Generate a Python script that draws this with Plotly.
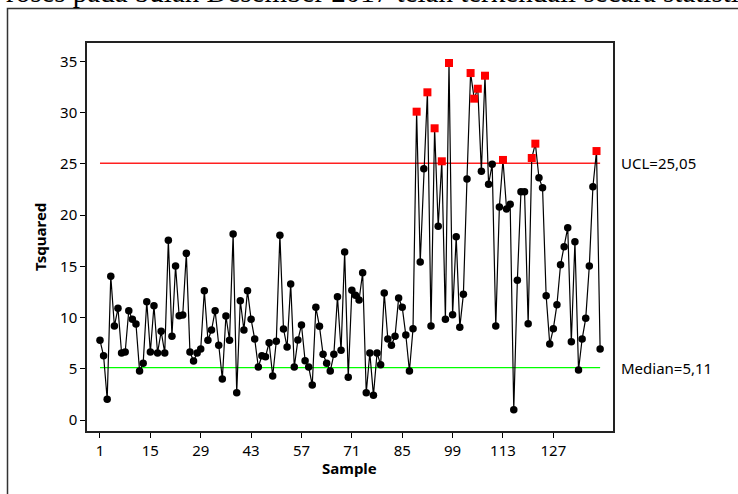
import plotly.graph_objects as go

# ---- data ----
tsquared = [
    7.78, 6.27, 2.02, 14.02, 9.17, 10.90, 6.54, 6.63, 10.66, 9.82,
    9.37, 4.78, 5.53, 11.54, 6.63, 11.15, 6.54, 8.65, 6.54, 17.53,
    8.17, 15.02, 10.18, 10.24, 16.26, 6.63, 5.76, 6.54, 6.93, 12.61,
    7.78, 8.78, 10.66, 7.29, 4.00, 10.15, 7.78, 18.15, 2.66, 11.64,
    8.78, 12.61, 9.82, 7.90, 5.17, 6.27, 6.18, 7.54, 4.29, 7.68,
    18.02, 8.88, 7.12, 13.27, 5.17, 7.80, 9.27, 5.79, 5.17, 3.41,
    11.00, 9.14, 6.41, 5.53, 4.78, 6.41, 12.03, 6.80, 16.39, 4.17,
    12.65, 12.17, 11.71, 14.37, 2.66, 6.54, 2.41, 6.54, 5.40, 12.39,
    7.90, 7.29, 8.17, 11.90, 11.00, 8.29, 4.78, 8.91, 30.08, 15.41,
    24.52, 31.97, 9.17, 28.46, 18.90, 25.24, 9.82, 34.83, 10.27, 17.88,
    9.04, 12.26, 23.51, 33.85, 31.35, 32.32, 24.26, 33.59, 23.00, 24.95,
    9.17, 20.78, 25.37, 20.59, 21.04, 1.00, 13.63, 22.27, 22.27, 9.40,
    25.56, 26.96, 23.64, 22.66, 12.13, 7.41, 8.91, 11.25, 15.15, 16.91,
    18.76, 7.64, 17.40, 4.88, 7.90, 9.92, 15.02, 22.76, 26.24, 6.93,
]
samples = list(range(1, len(tsquared) + 1))
ucl = 25.05
median = 5.11
x_ticks = [1, 15, 29, 43, 57, 71, 85, 99, 113, 127]
y_ticks = [0, 5, 10, 15, 20, 25, 30, 35]
ucl_label = "UCL=25,05"
median_label = "Median=5,11"
top_text = "roses pada bulan Desember 2017 telah terkendali secara statistik"

ooc_x = [s for s, v in zip(samples, tsquared) if v > ucl]
ooc_y = [v for v in tsquared if v > ucl]
ic_x = [s for s, v in zip(samples, tsquared) if v <= ucl]
ic_y = [v for v in tsquared if v <= ucl]

FONT = "Noto Sans, DejaVu Sans, sans-serif"

fig = go.Figure()
# control lines
fig.add_trace(go.Scatter(x=[samples[0], samples[-1]], y=[ucl, ucl], mode="lines",
                         line=dict(color="#FF2020", width=1.3), hoverinfo="skip"))
fig.add_trace(go.Scatter(x=[samples[0], samples[-1]], y=[median, median], mode="lines",
                         line=dict(color="#00FF00", width=1.3), hoverinfo="skip"))
# data line
fig.add_trace(go.Scatter(x=samples, y=tsquared, mode="lines",
                         line=dict(color="black", width=1.2)))
fig.add_trace(go.Scatter(x=ic_x, y=ic_y, mode="markers",
                         marker=dict(symbol="circle", size=7.5, color="black",
                                     line=dict(width=0))))
fig.add_trace(go.Scatter(x=ooc_x, y=ooc_y, mode="markers",
                         marker=dict(symbol="square", size=8, color="#FF0000",
                                     line=dict(width=0))))

L, R, T, B = 87, 125, 43, 63
W, H = 738, 494
pw, ph = W - L - R, H - T - B


def px_x(px):
    return (px - L) / pw


def px_y(py):
    return 1 - (py - T) / ph


fig.update_layout(
    width=W, height=H,
    margin=dict(l=L, r=R, t=T, b=B),
    paper_bgcolor="white", plot_bgcolor="white",
    showlegend=False,
    font=dict(family=FONT, size=15, color="black"),
    xaxis=dict(range=[-2.61, 143.58], tickmode="array", tickvals=x_ticks,
               ticks="outside", ticklen=5, tickwidth=1, tickcolor="black",
               showgrid=False, zeroline=False, showline=True, linecolor="#222",
               linewidth=1.5, mirror=True, tickfont=dict(size=15)),
    yaxis=dict(range=[-1.07, 36.78], tickmode="array", tickvals=y_ticks,
               ticks="outside", ticklen=5, tickwidth=1, tickcolor="black",
               showgrid=False, zeroline=False, showline=True, linecolor="#222",
               linewidth=1.5, mirror=True, tickfont=dict(size=15)),
    annotations=[
        dict(text=ucl_label, xref="paper", yref="y", x=px_x(619), y=ucl,
             xanchor="left", yanchor="middle", showarrow=False,
             font=dict(family=FONT, size=15)),
        dict(text=median_label, xref="paper", yref="y", x=px_x(619), y=median,
             xanchor="left", yanchor="middle", showarrow=False,
             font=dict(family=FONT, size=15)),
        dict(text="<b>Sample</b>", xref="paper", yref="paper", x=px_x(349.7),
             y=px_y(468), xanchor="center", yanchor="middle", showarrow=False,
             font=dict(family=FONT, size=15)),
        dict(text="<b>Tsquared</b>", xref="paper", yref="paper", x=px_x(40),
             y=px_y(237), xanchor="center", yanchor="middle", showarrow=False,
             textangle=-90, font=dict(family=FONT, size=15)),
        dict(text=top_text, xref="paper", yref="paper", x=px_x(4), y=px_y(10),
             xanchor="left", yanchor="bottom", showarrow=False,
             font=dict(family="Liberation Serif, serif", size=29)),
    ],
    shapes=[
        dict(type="rect", xref="paper", yref="paper",
             x0=px_x(7.5), x1=px_x(800), y0=px_y(8.5), y1=px_y(560),
             line=dict(color="#333", width=1.5), fillcolor="rgba(0,0,0,0)",
             layer="below"),
    ],
)

fig.write_html("out.html")
